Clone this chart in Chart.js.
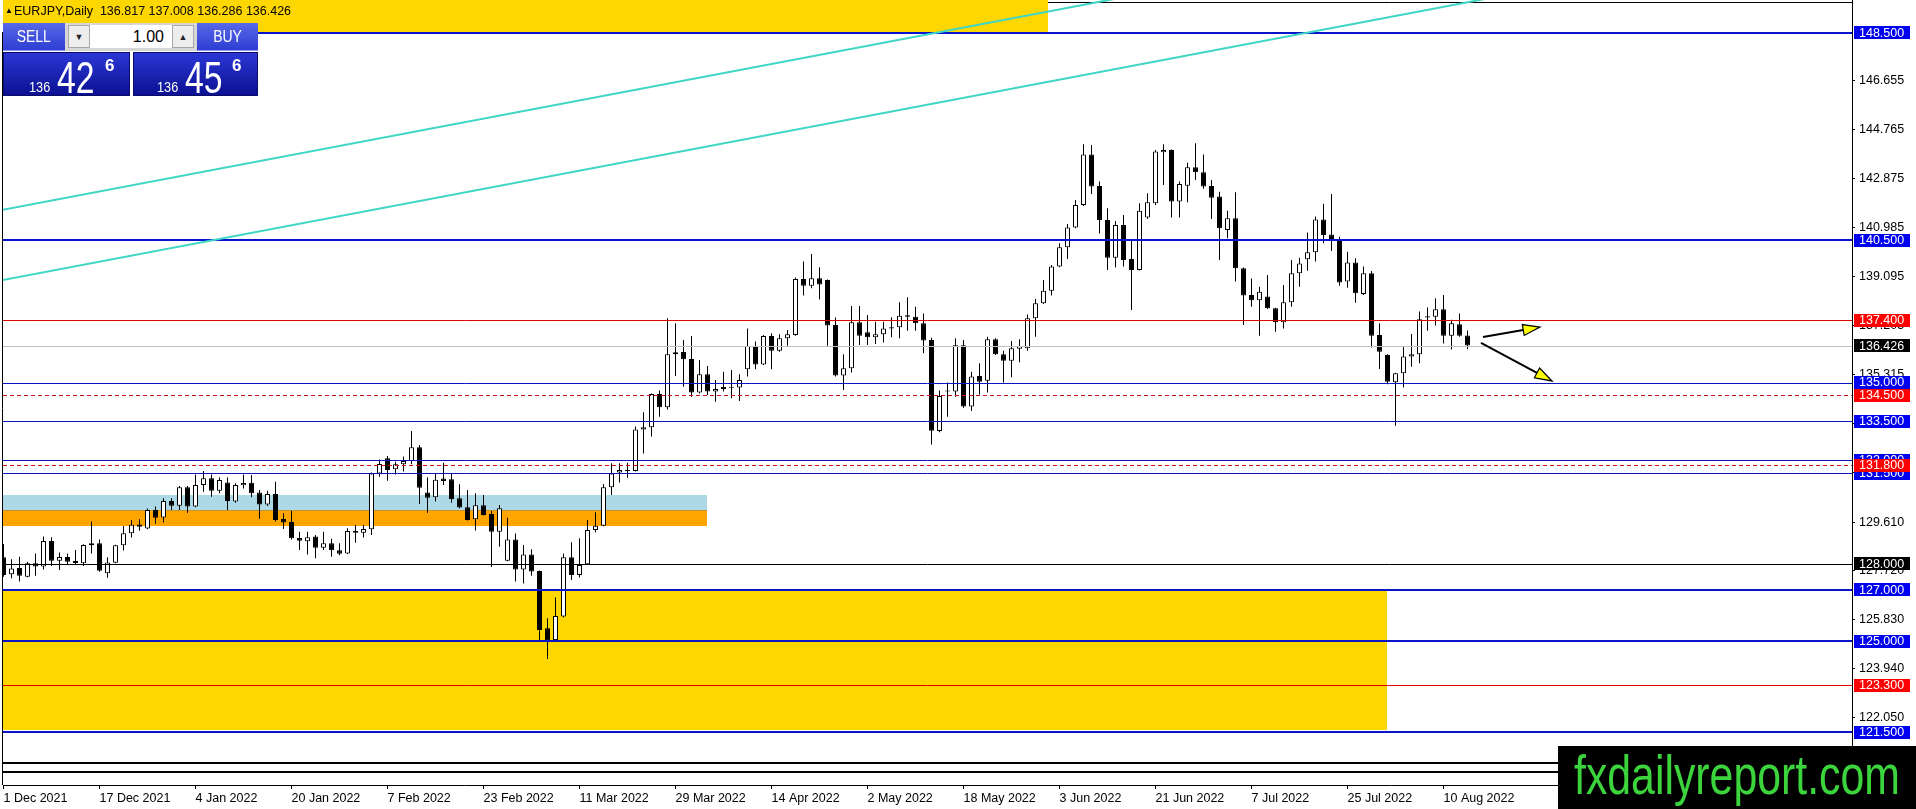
<!DOCTYPE html>
<html><head><meta charset="utf-8">
<script src="https://cdn.jsdelivr.net/npm/chart.js@4.4.1/dist/chart.umd.min.js"></script>
<style>
html,body{margin:0;padding:0;background:#fff;}
#wrap{position:relative;width:1916px;height:809px;overflow:hidden;font-family:'Liberation Sans',Arial,sans-serif;}
#c{position:absolute;left:0;top:0;}
.ov{position:absolute;white-space:pre;}
#title{left:14px;top:5px;font-size:12.5px;line-height:1;color:#000;}
#tri{left:5px;top:7px;font-size:8px;line-height:1;color:#000;}
.btn{top:23px;height:28px;background:linear-gradient(#5868e8,#2e3ed2);color:#fff;font-size:17px;display:flex;align-items:center;justify-content:center;box-sizing:border-box;border-bottom:1px solid #8d97ee;}
.btn span{display:inline-block;transform:scaleX(.82);}
#sell{left:3px;width:62px;}
#buy{left:197px;width:61px;}
#gray{left:65px;top:23px;width:132px;height:28px;background:#d6d6d6;}
.spin{top:25px;width:22px;height:23px;background:#ededed;border:1px solid #a8a8a8;box-sizing:border-box;font-size:9px;display:flex;align-items:center;justify-content:center;color:#222;}
#sd{left:68px;}#su{left:172px;}
#lot{left:90px;top:25px;width:82px;height:23px;background:#fff;font-size:16px;line-height:23px;text-align:right;padding-right:8px;box-sizing:border-box;color:#000;}
.pbox{top:52px;height:44px;background:linear-gradient(#2a37d4,#0c1192);box-sizing:border-box;border:1px solid #0a0e6a;}
#pl{left:3px;width:127px;}#pr{left:133px;width:125px;}
.ps{font-size:15px;line-height:1;color:#fff;top:79px;transform:scaleX(.85);transform-origin:left;}
.pb{font-size:45px;line-height:1;color:#fff;top:55px;transform:scaleX(.75);transform-origin:left;}
.pp{font-size:17px;font-weight:bold;line-height:1;color:#fff;top:57px;}
#wm{left:1558px;top:746px;width:358px;height:63px;background:#000;}
#wmt{position:absolute;left:16px;top:1px;font-size:56px;line-height:1;color:#3cd43c;transform-origin:left top;white-space:pre;}
</style></head><body>
<div id="wrap">
<canvas id="c" width="1916" height="809"></canvas>
<div class="ov" id="tri">▲</div>
<div class="ov" id="title">EURJPY,Daily  136.817 137.008 136.286 136.426</div>
<div class="ov btn" id="sell"><span>SELL</span></div>
<div class="ov" id="gray"></div>
<div class="ov spin" id="sd">▼</div>
<div class="ov" id="lot">1.00</div>
<div class="ov spin" id="su">▲</div>
<div class="ov btn" id="buy"><span>BUY</span></div>
<div class="ov pbox" id="pl"></div>
<div class="ov pbox" id="pr"></div>
<div class="ov ps" style="left:29px">136</div>
<div class="ov pb" style="left:57px">42</div>
<div class="ov pp" style="left:105px">6</div>
<div class="ov ps" style="left:157px">136</div>
<div class="ov pb" style="left:185px">45</div>
<div class="ov pp" style="left:232px">6</div>
<div class="ov" id="wm"><span id="wmt">fxdailyreport.com</span></div>
</div>
<script>
// ---------- data ----------
const opens = [128.25,127.59,127.84,127.50,128.02,127.89,128.88,128.12,128.26,128.11,128.02,128.71,128.79,127.63,128.04,128.71,129.18,129.52,129.36,130.08,129.79,130.42,130.24,130.95,130.21,131.04,131.30,130.82,131.14,130.40,131.03,
131.13,130.75,130.29,130.69,129.73,129.61,128.99,128.87,129.05,128.62,128.79,128.52,128.40,129.26,129.20,129.33,131.49,132.07,131.65,131.84,131.97,132.50,130.75,130.57,131.29,131.26,130.53,130.18,129.72,130.26,129.92,
129.24,128.12,128.94,127.78,128.36,127.72,125.51,125.05,125.96,128.25,127.57,127.98,129.30,
129.47,130.95,131.52,131.62,131.58,133.19,133.27,134.56,134.04,136.09,136.18,135.91,134.61,135.32,134.65,134.75,134.83,
134.81,135.51,136.41,135.70,136.80,136.23,136.71,136.84,139.00,138.74,139.03,138.96,137.22,135.27,135.55,137.33,136.94,136.75,136.86,137.09,137.13,137.60,137.54,137.29,136.64,133.13,134.65,134.65,136.44,134.07,135.25,135.07,136.67,136.09,135.84,136.30,136.32,137.48,138.06,138.54,139.48,140.22,140.99,141.86,
143.81,142.59,141.28,139.82,141.08,139.77,139.35,141.37,141.92,143.89,143.98,141.99,142.60,143.31,143.12,142.59,142.18,140.89,141.34,139.41,138.38,138.18,138.32,137.87,137.33,138.10,139.22,139.76,140.03,141.30,140.72,140.47,138.90,139.64,138.42,139.22,136.84,136.06,135.01,135.36,136.00,136.09,137.56,137.54,137.83,136.81,137.25,136.817];
const highs = [128.76,128.17,128.27,128.08,128.40,129.05,129.02,128.43,128.40,128.53,128.75,129.63,128.94,128.25,128.73,129.46,129.69,129.72,130.13,130.21,130.53,130.53,131.00,131.00,131.45,131.58,131.45,131.33,131.33,131.11,131.45,
131.43,130.85,130.82,131.17,129.95,130.05,129.24,129.24,129.11,129.24,128.97,128.79,129.37,129.50,129.50,131.52,132.03,132.16,131.94,132.14,133.13,132.59,131.34,131.49,131.90,131.49,131.07,130.85,130.72,130.66,130.04,
130.27,129.78,129.17,128.72,128.56,127.74,125.89,126.70,128.40,128.83,128.98,129.69,129.99,
131.08,131.88,131.88,131.90,133.30,133.85,134.58,134.69,137.48,137.29,136.64,136.80,135.87,135.64,135.10,135.42,135.48,
135.32,137.09,136.58,136.84,136.90,136.86,137.03,139.06,139.67,139.96,139.45,138.98,137.51,136.09,137.96,137.96,137.61,137.35,137.35,137.52,138.10,138.29,137.93,137.67,136.73,134.69,135.00,136.71,136.64,135.42,135.74,136.77,136.71,136.23,136.60,136.67,137.63,138.23,138.96,139.54,140.38,141.12,142.05,144.20,
144.17,142.76,141.73,141.24,141.47,140.51,141.92,142.31,143.98,144.20,144.00,142.76,143.49,144.24,143.81,142.82,142.37,141.63,142.35,139.44,139.02,138.70,139.15,137.89,138.77,139.73,139.82,140.79,141.41,141.90,142.28,140.63,140.05,139.80,139.48,139.31,137.29,136.09,135.38,136.41,136.87,137.74,137.90,138.25,138.38,137.42,137.67,137.008];
const lows = [127.50,127.44,127.31,127.48,127.54,127.78,127.91,127.76,127.99,127.95,127.91,128.40,127.69,127.46,128.02,128.51,129.01,129.27,129.33,129.54,129.59,130.08,130.08,129.97,130.18,130.78,130.59,130.72,130.08,130.36,130.91,
130.57,129.74,130.23,129.63,129.34,128.94,128.53,128.36,128.21,128.53,128.27,128.33,128.38,128.81,129.01,129.11,131.36,131.21,131.45,131.56,131.84,130.31,129.97,130.40,131.04,130.36,130.14,129.67,129.28,129.86,127.87,
128.66,128.10,127.31,127.24,127.54,125.05,124.32,125.03,125.92,127.37,127.47,127.96,129.21,
129.45,130.66,131.14,131.32,131.56,132.26,132.91,133.68,133.96,135.25,134.84,134.45,134.58,134.52,134.26,134.65,134.39,
134.29,135.23,135.51,135.68,135.51,136.19,136.42,136.81,138.36,138.64,138.21,136.42,135.23,134.71,135.39,136.45,136.45,136.49,136.55,136.75,136.71,137.00,137.00,136.13,132.61,133.08,133.68,134.45,134.03,133.90,134.54,134.61,136.06,135.00,135.20,135.78,136.23,136.77,138.03,138.36,139.45,139.77,140.96,141.82,
142.28,140.76,139.35,139.44,139.48,137.80,139.33,141.32,141.86,142.63,141.37,141.37,141.96,142.82,142.48,141.32,139.73,140.57,138.90,137.22,137.93,136.81,137.84,136.96,137.09,137.93,138.70,139.32,139.67,140.38,140.08,138.74,138.66,138.08,138.38,136.35,135.52,134.93,133.33,134.81,135.61,135.74,137.00,137.20,136.51,136.28,136.77,136.286];
const closes = [127.57,127.82,127.54,128.02,127.89,128.88,128.12,128.26,128.08,128.03,128.72,128.79,127.73,128.05,128.71,129.18,129.51,129.43,130.08,129.78,130.42,130.24,130.95,130.21,131.04,131.30,130.82,131.23,130.42,131.04,131.12,
130.72,130.29,130.69,129.69,129.59,128.98,128.89,129.02,128.62,128.79,128.52,128.39,129.26,129.20,129.34,131.49,131.85,131.62,131.84,131.97,132.50,130.94,130.55,131.24,131.20,130.50,130.17,129.69,130.26,129.88,129.24,
130.14,128.94,127.78,128.36,127.70,125.44,125.03,125.98,128.25,127.57,127.95,129.30,129.47,
130.95,131.49,131.62,131.57,133.19,133.27,134.56,134.04,136.09,136.17,135.90,134.61,135.32,134.65,134.75,134.83,134.80,
135.10,136.41,135.70,136.80,136.23,136.71,136.86,139.00,138.74,139.03,138.79,137.20,135.27,135.55,137.33,136.81,136.75,136.86,137.09,137.13,137.58,137.54,137.29,136.62,133.14,134.48,134.69,136.44,134.07,135.23,135.03,136.67,136.09,135.84,136.32,136.41,137.48,138.06,138.54,139.48,140.22,140.99,141.86,143.81,
142.57,141.28,139.82,141.08,139.73,139.35,141.63,141.96,143.92,143.98,141.99,142.67,143.31,143.12,142.57,142.14,140.96,141.34,139.41,138.36,138.18,138.51,137.87,137.33,138.10,139.22,139.60,140.03,141.30,140.70,140.47,138.86,139.64,138.45,139.22,136.81,136.19,135.03,135.36,136.00,136.09,137.44,137.51,137.83,136.81,137.29,136.81,136.426];

const dateLabels = ['1 Dec 2021','17 Dec 2021','4 Jan 2022','20 Jan 2022','7 Feb 2022','23 Feb 2022','11 Mar 2022','29 Mar 2022','14 Apr 2022','2 May 2022','18 May 2022','3 Jun 2022','21 Jun 2022','7 Jul 2022','25 Jul 2022','10 Aug 2022'];
const labelBars = [0,12,24,36,48,60,72,84,96,108,120,132,144,156,168,180];
const priceTicks = [146.655,144.765,142.875,140.985,139.095,137.205,135.315,133.425,131.535,129.610,127.720,125.830,123.940,122.050];

const levelPrices = [148.5,140.5,137.4,136.426,135.0,134.5,133.5,132.0,131.5,131.8,128.0,127.0,125.0,123.3,121.5,120.3,119.95];
const levelKinds  = ['blueThick','blueThick','red','bid','blue','redDash','blue','blue','blue','redDash','black','blueThick','blueThick','red','blueThick','plainThick','plainThick'];

const zoneStartBar = [-1,-1,-1,-1];
const zoneEndBar   = [130.6,87.9,87.9,172.9];
const zoneTop      = [151.0,130.66,130.08,126.96];
const zoneBottom   = [148.55,130.08,129.47,121.57];
const zoneKinds    = ['gold','lightblue','orange','gold'];

const trendStartBar   = [-0.125,-0.125];
const trendStartPrice = [141.67,138.96];
const trendEndBar     = [115.75,162.75];
const trendEndPrice   = [148.46,148.50];

const arrowFromBar   = [184.94,184.69];
const arrowFromPrice = [136.76,136.53];
const arrowToBar     = [192.06,193.56];
const arrowToPrice   = [137.14,135.06];

// ---------- styles ----------
const levelStyle = {
  blueThick:{color:'#0a14c8',width:2,dash:[],bg:'#0000f0'},
  blue:{color:'#0a14c0',width:1,dash:[],bg:'#0000f0'},
  red:{color:'#e00000',width:1,dash:[],bg:'#ff0000'},
  redDash:{color:'#cc1010',width:1,dash:[4,3],bg:'#ff0000'},
  bid:{color:'#c0c0c0',width:1,dash:[],bg:'#000000'},
  black:{color:'#000000',width:1,dash:[],bg:'#000000'},
  plainThick:{color:'#000000',width:2,dash:[],bg:null}
};
const zoneStyle = {gold:{fill:'#ffd700'},lightblue:{fill:'#add8e6'},orange:{fill:'#ffa500',edge:'#c8922a'}};
const FONT = '"Liberation Sans", Arial, sans-serif';

const bodies = opens.map((o,i)=>({x:i,y:[o,closes[i]]}));
const wicks = highs.map((h,i)=>({x:i,y:[lows[i],h]}));

const overlay = {
  id:'overlay',
  beforeDatasetsDraw(chart){
    const {ctx, chartArea:a, scales:{x,y}} = chart;
    ctx.save();
    ctx.strokeStyle='#000';ctx.lineWidth=1;
    ctx.beginPath();ctx.moveTo(a.left,2.5);ctx.lineTo(a.right,2.5);ctx.stroke();
    ctx.beginPath();ctx.rect(a.left,a.top,a.right-a.left,a.bottom-a.top);ctx.clip();
    for(let k=0;k<zoneStartBar.length;k++){
      const st=zoneStyle[zoneKinds[k]];
      const x1=x.getPixelForValue(zoneStartBar[k]), x2=Math.round(x.getPixelForValue(zoneEndBar[k]));
      const y1=Math.round(y.getPixelForValue(zoneTop[k])), y2=Math.round(y.getPixelForValue(zoneBottom[k]));
      ctx.fillStyle=st.fill;ctx.fillRect(x1,y1,x2-x1,y2-y1);
      if(st.edge){ctx.strokeStyle=st.edge;ctx.beginPath();ctx.moveTo(x1,y1+0.5);ctx.lineTo(x2,y1+0.5);ctx.stroke();}
    }
    ctx.restore();
  },
  afterDatasetsDraw(chart){
    const {ctx, chartArea:a, scales:{x,y}} = chart;
    ctx.save();
    ctx.beginPath();ctx.rect(a.left,a.top,a.right-a.left,a.bottom-a.top);ctx.clip();
    levelPrices.forEach((p,k)=>{
      const st=levelStyle[levelKinds[k]];
      let py=y.getPixelForValue(p);
      py = st.width===1 ? Math.round(py)+0.5 : Math.round(py);
      ctx.strokeStyle=st.color;ctx.lineWidth=st.width;ctx.setLineDash(st.dash);
      ctx.beginPath();ctx.moveTo(a.left,py);ctx.lineTo(a.right,py);ctx.stroke();
    });
    ctx.setLineDash([]);
    ctx.strokeStyle='#3fd6c6';ctx.lineWidth=2;
    for(let k=0;k<trendStartBar.length;k++){
      const x1=x.getPixelForValue(trendStartBar[k]), y1=y.getPixelForValue(trendStartPrice[k]);
      const x2=x.getPixelForValue(trendEndBar[k]), y2=y.getPixelForValue(trendEndPrice[k]);
      const t=4;
      ctx.beginPath();ctx.moveTo(x1,y1);ctx.lineTo(x1+(x2-x1)*t,y1+(y2-y1)*t);ctx.stroke();
    }
    for(let k=0;k<arrowFromBar.length;k++){
      const x1=x.getPixelForValue(arrowFromBar[k]), y1=y.getPixelForValue(arrowFromPrice[k]);
      const x2=x.getPixelForValue(arrowToBar[k]), y2=y.getPixelForValue(arrowToPrice[k]);
      const ang=Math.atan2(y2-y1,x2-x1), L=17, W=5.5;
      const bx=x2-L*Math.cos(ang), by=y2-L*Math.sin(ang);
      ctx.strokeStyle='#000';ctx.lineWidth=2;
      ctx.beginPath();ctx.moveTo(x1,y1);ctx.lineTo(bx,by);ctx.stroke();
      ctx.beginPath();
      ctx.moveTo(x2,y2);
      ctx.lineTo(bx+W*Math.sin(ang),by-W*Math.cos(ang));
      ctx.lineTo(bx-W*Math.sin(ang),by+W*Math.cos(ang));
      ctx.closePath();
      ctx.fillStyle='#ffff00';ctx.fill();ctx.lineWidth=1.2;ctx.stroke();
    }
    ctx.restore();
    ctx.save();ctx.strokeStyle='#000';ctx.lineWidth=1;
    ctx.beginPath();ctx.moveTo(2.5,a.top+32);ctx.lineTo(2.5,a.bottom);ctx.stroke();ctx.restore();
  },
  afterDraw(chart){
    const {ctx, chartArea:a, scales:{y}} = chart;
    ctx.save();
    ctx.font='12.5px '+FONT;ctx.textBaseline='middle';ctx.textAlign='left';
    levelPrices.forEach((p,k)=>{
      const st=levelStyle[levelKinds[k]];
      if(!st.bg) return;
      const py=y.getPixelForValue(p);
      ctx.fillStyle=st.bg;ctx.fillRect(a.right+2,Math.round(py-6.5),56,13);
      ctx.fillStyle='#fff';ctx.fillText(p.toFixed(3),a.right+7,py+0.5);
    });
    ctx.restore();
  }
};

new Chart(document.getElementById('c'),{
  type:'bar',
  data:{datasets:[
    {data:bodies,grouped:false,barThickness:5,minBarLength:1,borderWidth:1,borderColor:'#000',borderSkipped:false,inflateAmount:0,
     backgroundColor:(c)=> closes[c.dataIndex]>=opens[c.dataIndex] ? '#ffffff' : '#000000'},
    {data:wicks,grouped:false,barThickness:1,borderWidth:0,inflateAmount:0,backgroundColor:'#000000'}
  ]},
  options:{
    responsive:false,animation:false,devicePixelRatio:1,
    layout:{padding:{left:3,top:0,right:0,bottom:0}},
    plugins:{legend:{display:false},tooltip:{enabled:false},title:{display:false}},
    scales:{
      x:{type:'linear',min:-0.0625,max:231.0625,offset:false,bounds:'data',
        grid:{display:true,drawOnChartArea:false,drawTicks:true,tickLength:4,color:'#000',offset:false},
        border:{display:true,color:'#000',width:1},
        afterBuildTicks:(s)=>{s.ticks=labelBars.map(v=>({value:v}));},
        afterFit:(s)=>{s.height=24;s.paddingLeft=0;s.paddingRight=0;s.paddingTop=0;s.paddingBottom=0;},
        ticks:{autoSkip:false,maxRotation:0,minRotation:0,align:'start',padding:2,color:'#000',
          font:{family:FONT,size:12.5},callback:(v,i)=>dateLabels[i]}},
      y:{type:'linear',position:'right',min:119.454,max:149.7746,bounds:'data',beginAtZero:false,
        grid:{display:true,drawOnChartArea:false,drawTicks:true,tickLength:3,color:'#000'},
        border:{display:true,color:'#000',width:1},
        afterBuildTicks:(s)=>{s.ticks=priceTicks.map(v=>({value:v}));},
        afterFit:(s)=>{s.width=64;s.paddingTop=0;s.paddingBottom=0;s.paddingLeft=0;s.paddingRight=0;},
        ticks:{autoSkip:false,padding:4,color:'#000',font:{family:FONT,size:12.5},callback:(v)=>Number(v).toFixed(3)}}
    }
  },
  plugins:[overlay]
});

const wmt=document.getElementById('wmt');
const w=wmt.getBoundingClientRect().width;
wmt.style.transform='scaleX('+(326/w)+')';
</script>
</body></html>
